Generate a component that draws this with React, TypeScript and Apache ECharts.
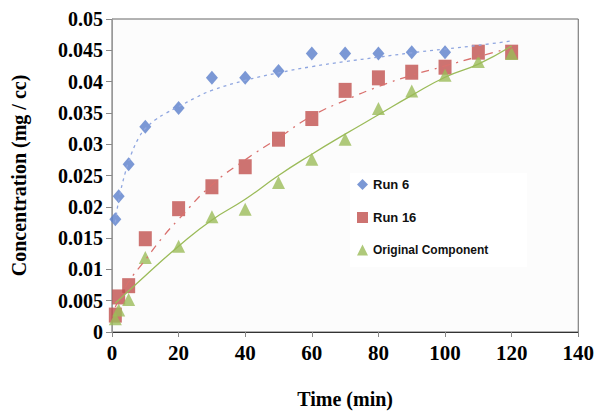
import React, { useEffect, useRef } from "react";
import * as echarts from "echarts";

// Measurement times (min)
const run6Time = [1, 2, 5, 10, 20, 30, 40, 50, 60, 70, 80, 90, 100];
const run6Conc = [0.018, 0.0217, 0.0268, 0.0328, 0.0358, 0.0406, 0.0406, 0.0417, 0.0445, 0.0445, 0.0445, 0.0447, 0.0447];

const run16Time = [1, 2, 5, 10, 20, 30, 40, 50, 60, 70, 80, 90, 100, 110, 120];
const run16Conc = [0.0027, 0.0056, 0.0074, 0.0149, 0.0197, 0.0232, 0.0264, 0.0308, 0.0341, 0.0386, 0.0406, 0.0415, 0.0423, 0.0447, 0.0447];

const origTime = [1, 2, 5, 10, 20, 30, 40, 50, 60, 70, 80, 90, 100, 110, 120];
const origConc = [0.0021, 0.0035, 0.0052, 0.0119, 0.0137, 0.0184, 0.0196, 0.0239, 0.0276, 0.0308, 0.0357, 0.0385, 0.041, 0.0432, 0.0445];

// Trend lines
const run6TrendTime = [1, 2, 4, 6, 8, 10, 13, 16, 20, 25, 30, 40, 50, 60, 70, 80, 90, 100, 110, 120];
const run6TrendConc = [0.0175, 0.021, 0.0255, 0.0287, 0.031, 0.0325, 0.0339, 0.0349, 0.036, 0.0374, 0.0386, 0.0402, 0.0414, 0.0424, 0.0432, 0.0439, 0.0446, 0.0452, 0.0458, 0.0465];

const run16TrendTime = [1, 5, 10, 15, 20, 30, 40, 50, 60, 70, 80, 90, 100, 110, 120];
const run16TrendConc = [0.004, 0.008, 0.0115, 0.015, 0.018, 0.0235, 0.0275, 0.031, 0.0345, 0.037, 0.0392, 0.041, 0.0425, 0.044, 0.0454];

const origTrendTime = [1, 10, 20, 30, 40, 50, 60, 70, 80, 90, 100, 110, 120];
const origTrendConc = [0.0046, 0.009, 0.0137, 0.0179, 0.0212, 0.025, 0.0284, 0.0316, 0.0347, 0.0378, 0.0407, 0.0428, 0.0457];

const seriesNames = ["Run 6", "Run 16", "Original Component"];
const xTicks = { min: 0, max: 140, interval: 20 };
const yTicks = { min: 0, max: 0.05, interval: 0.005 };

const pair = (xs: number[], ys: number[]) => xs.map((x, i) => [x, ys[i]]);

export default function App() {
  const ref = useRef<HTMLDivElement>(null);
  useEffect(() => {
    if (!ref.current) return;
    const chart = echarts.init(ref.current, undefined, { renderer: "svg" });
    const serif = "'Liberation Serif', 'Times New Roman', serif";
    const sans = "'Liberation Sans', Arial, sans-serif";
    chart.setOption({
      animation: false,
      backgroundColor: "#ffffff",
      grid: {
        left: 112,
        top: 19,
        width: 469,
        height: 318,
        show: true,
        backgroundColor: "#fcfcfc",
        borderColor: "#666",
        borderWidth: 1,
      },
      graphic: [
        {
          type: "rect",
          z: 1,
          shape: { x: 350, y: 173, width: 177, height: 94 },
          style: { fill: "#ffffff" },
        },
      ],
      legend: {
        orient: "vertical",
        left: 357,
        top: 178,
        itemWidth: 11,
        itemHeight: 11,
        itemGap: 20,
        padding: 0,
        textStyle: { fontFamily: sans, fontWeight: "bold", fontSize: 13, color: "#111" },
        data: [
          { name: seriesNames[0] },
          { name: seriesNames[1] },
          { name: seriesNames[2], textStyle: { fontSize: 12 } },
        ],
      },
      xAxis: {
        type: "value",
        min: xTicks.min,
        max: xTicks.max,
        interval: xTicks.interval,
        name: "Time (min)",
        nameLocation: "middle",
        nameGap: 57,
        nameTextStyle: { fontFamily: serif, fontWeight: "bold", fontSize: 20, color: "#000" },
        axisLine: { lineStyle: { color: "#333", width: 1 } },
        axisTick: { show: true, inside: false, length: 5, lineStyle: { color: "#888" } },
        axisLabel: { fontFamily: serif, fontWeight: "bold", fontSize: 21, color: "#000", margin: 10 },
        splitLine: { show: false },
      },
      yAxis: {
        type: "value",
        min: yTicks.min,
        max: yTicks.max,
        interval: yTicks.interval,
        name: "Concentration (mg / cc)",
        nameLocation: "middle",
        nameGap: 83,
        nameRotate: 90,
        nameTextStyle: { fontFamily: serif, fontWeight: "bold", fontSize: 20, color: "#000" },
        axisLine: { show: true, lineStyle: { color: "#999", width: 1 } },
        axisTick: { show: true, inside: false, length: 6, lineStyle: { color: "#888" } },
        axisLabel: {
          fontFamily: serif,
          fontWeight: "bold",
          fontSize: 20,
          color: "#000",
          margin: 9,
          formatter: (v: number) => String(+v.toFixed(3)),
        },
        splitLine: { show: false },
      },
      series: [
        {
          name: seriesNames[0],
          type: "scatter",
          symbol: "diamond",
          symbolSize: [12, 14],
          itemStyle: { color: "#5a7ecb" },
          data: pair(run6Time, run6Conc),
          z: 2,
        },
        {
          name: seriesNames[1],
          type: "scatter",
          symbol: "rect",
          symbolSize: [13, 15],
          itemStyle: { color: "#c0504d" },
          data: pair(run16Time, run16Conc),
          z: 2,
        },
        {
          name: seriesNames[2],
          type: "scatter",
          symbol: "triangle",
          symbolSize: [13, 13],
          itemStyle: { color: "#9bbb59" },
          data: pair(origTime, origConc),
          z: 2,
        },
        {
          name: "Run 6 trend",
          type: "line",
          smooth: 0.4,
          showSymbol: false,
          silent: true,
          lineStyle: { color: "#8fa6e0", width: 1.3, type: [3, 4] },
          data: pair(run6TrendTime, run6TrendConc),
          z: 3,
        },
        {
          name: "Run 16 trend",
          type: "line",
          smooth: true,
          showSymbol: false,
          silent: true,
          lineStyle: { color: "#d9716e", width: 1.3, type: [8, 6, 2, 6] },
          data: pair(run16TrendTime, run16TrendConc),
          z: 3,
        },
        {
          name: "Original trend",
          type: "line",
          smooth: true,
          showSymbol: false,
          silent: true,
          lineStyle: { color: "#9bbb59", width: 1.3 },
          data: pair(origTrendTime, origTrendConc),
          z: 3,
        },
      ],
    });
    return () => chart.dispose();
  }, []);
  return (
    <div
      ref={ref}
      style={{ position: "fixed", left: 0, top: 0, width: 597, height: 414 }}
    />
  );
}
